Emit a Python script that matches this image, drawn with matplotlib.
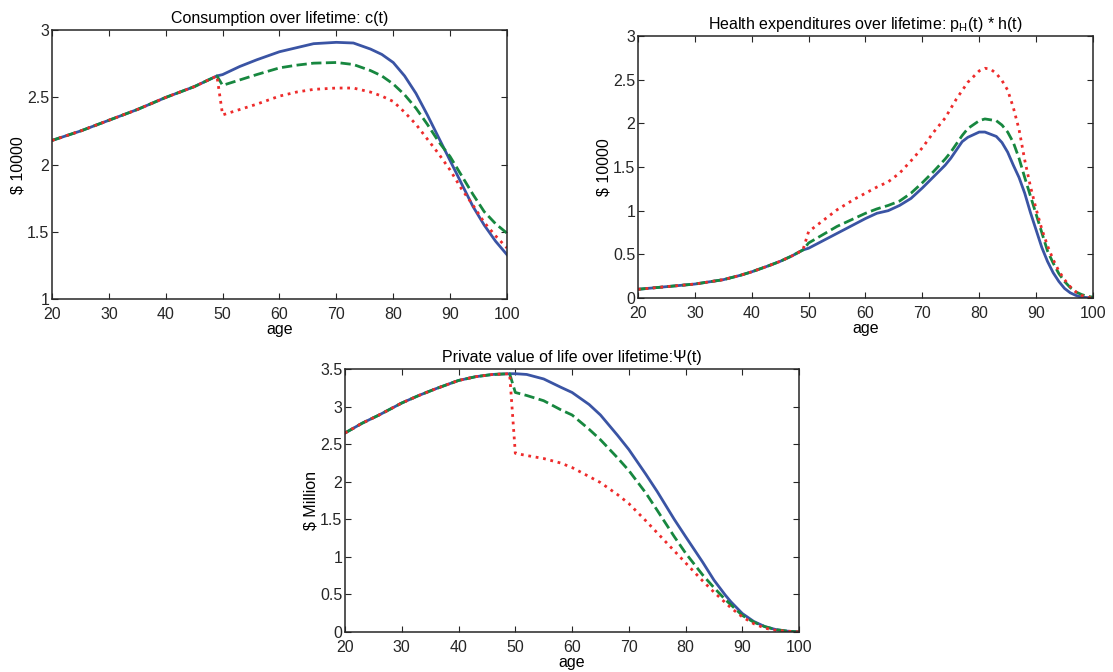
import matplotlib
matplotlib.use('Agg')
import matplotlib.pyplot as plt

plt.rcParams['font.family'] = ['Liberation Sans', 'DejaVu Sans']
plt.rcParams['mathtext.fontset'] = 'custom'
plt.rcParams['mathtext.rm'] = 'Liberation Sans'
plt.rcParams['mathtext.it'] = 'Liberation Sans'

# Consumption c(t), $10000
c_age_common = [20, 25, 30, 35, 40, 45, 49]
c_common = [2.18, 2.25, 2.33, 2.41, 2.50, 2.58, 2.66]
c_age_after = [50, 53, 56, 60, 63, 66, 70, 73, 76, 78, 80, 82, 84, 86, 88, 90, 92, 94, 96, 98, 100]
c_blue = [2.67, 2.73, 2.78, 2.84, 2.87, 2.90, 2.91, 2.905, 2.86, 2.82, 2.76, 2.66, 2.53, 2.37,
          2.20, 2.03, 1.86, 1.69, 1.55, 1.43, 1.33]
c_green = [2.59, 2.63, 2.67, 2.72, 2.74, 2.755, 2.76, 2.745, 2.70, 2.66, 2.60, 2.52, 2.42, 2.30,
           2.17, 2.06, 1.92, 1.78, 1.65, 1.56, 1.49]
c_red = [2.37, 2.41, 2.45, 2.51, 2.54, 2.56, 2.57, 2.57, 2.54, 2.51, 2.47, 2.39, 2.30, 2.19,
         2.08, 1.96, 1.82, 1.70, 1.57, 1.47, 1.38]

# Health expenditures p_H(t)*h(t), $10000
h_age_common = [20, 25, 30, 35, 38, 40, 43, 45, 47, 49]
h_common = [0.10, 0.13, 0.16, 0.21, 0.26, 0.30, 0.37, 0.42, 0.48, 0.55]
h_age_blue = [50, 55, 60, 62, 64, 66, 68, 70, 72, 74, 75, 77, 78, 80, 81, 83, 84, 85, 86, 87,
              88, 89, 90, 91, 92, 93, 94, 95, 96, 97, 98, 100]
h_blue = [0.57, 0.74, 0.91, 0.97, 1.00, 1.06, 1.14, 1.26, 1.39, 1.52, 1.60, 1.79, 1.84, 1.90,
          1.90, 1.85, 1.78, 1.67, 1.52, 1.38, 1.20, 0.98, 0.78, 0.58, 0.42, 0.29, 0.19, 0.11,
          0.06, 0.03, 0.01, 0.0]
h_age_green = [50, 55, 60, 62, 64, 66, 68, 70, 72, 74, 75, 77, 78, 80, 81, 83, 84, 85, 86, 87,
               88, 89, 90, 91, 92, 93, 94, 95, 96, 97, 98, 99, 100]
h_green = [0.63, 0.82, 0.97, 1.02, 1.06, 1.11, 1.20, 1.32, 1.45, 1.59, 1.67, 1.86, 1.94, 2.03,
           2.05, 2.03, 1.98, 1.90, 1.78, 1.60, 1.38, 1.17, 0.96, 0.75, 0.54, 0.40, 0.28, 0.19,
           0.12, 0.07, 0.04, 0.02, 0.01]
h_age_red = [50, 52, 55, 58, 60, 62, 64, 66, 68, 70, 72, 74, 76, 78, 80, 81, 82, 83, 84, 85,
             86, 87, 88, 89, 90, 91, 92, 93, 94, 95, 96, 97, 98, 99, 100]
h_red = [0.76, 0.86, 1.01, 1.13, 1.20, 1.27, 1.33, 1.43, 1.57, 1.72, 1.90, 2.06, 2.28, 2.47,
         2.60, 2.63, 2.62, 2.57, 2.49, 2.38, 2.18, 1.93, 1.58, 1.28, 1.02, 0.79, 0.60, 0.44,
         0.31, 0.21, 0.13, 0.07, 0.03, 0.01, 0.0]

# Private value of life Psi(t), $ Million
v_age_common = [20, 23, 26, 30, 33, 36, 40, 43, 46, 49]
v_common = [2.65, 2.78, 2.89, 3.05, 3.15, 3.24, 3.35, 3.40, 3.43, 3.44]
v_age_after = [50, 52, 55, 58, 60, 63, 65, 68, 70, 73, 75, 78, 80, 83, 85, 87, 88, 90, 92, 94,
               96, 98, 100]
v_blue = [3.44, 3.43, 3.37, 3.26, 3.19, 3.03, 2.89, 2.62, 2.43, 2.10, 1.87, 1.50, 1.27, 0.93,
          0.69, 0.49, 0.40, 0.245, 0.14, 0.07, 0.03, 0.01, 0.0]
v_green = [3.19, 3.15, 3.08, 2.96, 2.89, 2.70, 2.56, 2.32, 2.15, 1.85, 1.62, 1.27, 1.05, 0.76,
           0.59, 0.43, 0.36, 0.22, 0.13, 0.07, 0.03, 0.01, 0.0]
v_red = [2.38, 2.35, 2.31, 2.25, 2.19, 2.07, 1.99, 1.83, 1.71, 1.48, 1.32, 1.08, 0.92, 0.68,
         0.53, 0.39, 0.32, 0.20, 0.11, 0.05, 0.02, 0.01, 0.0]

blue = '#3a54a4'
green = '#17873f'
red = '#ee2b2b'
dark = '#262626'


def style_axes(ax, ylim, yticks):
    ax.set_xlim(20, 100)
    ax.set_ylim(*ylim)
    ax.set_xticks(range(20, 101, 10))
    ax.set_yticks(yticks)
    ax.set_yticklabels(['%g' % v for v in yticks])
    ax.tick_params(direction='in', top=True, right=True, length=4,
                   width=0.8, colors=dark, labelsize=11.5)
    ax.tick_params(axis='x', pad=5.5)
    ax.tick_params(axis='y', pad=2)
    for s in ax.spines.values():
        s.set_color(dark)
        s.set_linewidth(1.1)


def draw_three(ax, age_c, common, ages, vals):
    styles = [(blue, '-'), (green, (0, (3.7, 1.6))), (red, (0, (1, 1.7)))]
    for (col, ls), a, v in zip(styles, ages, vals):
        ax.plot(age_c + a, common + v, color=col, linestyle=ls, linewidth=2)


fig = plt.figure(figsize=(11.13, 6.72), dpi=100)

ax1 = fig.add_axes([0.0467, 0.555, 0.4088, 0.400])
draw_three(ax1, c_age_common, c_common,
           [c_age_after] * 3, [c_blue, c_green, c_red])
style_axes(ax1, (1, 3), [1, 1.5, 2, 2.5, 3])
ax1.set_title('Consumption over lifetime: c(t)', fontsize=11.5, pad=5)
ax1.set_xlabel('age', fontsize=11.5, labelpad=0)
ax1.set_ylabel('$ 10000', fontsize=11.5, labelpad=1)

ax2 = fig.add_axes([0.5732, 0.5565, 0.4088, 0.390])
draw_three(ax2, h_age_common, h_common,
           [h_age_blue, h_age_green, h_age_red], [h_blue, h_green, h_red])
style_axes(ax2, (0, 3), [0, 0.5, 1, 1.5, 2, 2.5, 3])
ax2.set_title(r'Health expenditures over lifetime: p$_\mathregular{H}$(t) * h(t)',
              fontsize=11.5, pad=5)
ax2.set_xlabel('age', fontsize=11.5, labelpad=0)
ax2.set_ylabel('$ 10000', fontsize=11.5, labelpad=1)

ax3 = fig.add_axes([0.31, 0.0596, 0.408, 0.391])
draw_three(ax3, v_age_common, v_common,
           [v_age_after] * 3, [v_blue, v_green, v_red])
style_axes(ax3, (0, 3.5), [0, 0.5, 1, 1.5, 2, 2.5, 3, 3.5])
ax3.set_title('Private value of life over lifetime:\u03a8(t)', fontsize=11.5, pad=5)
ax3.set_xlabel('age', fontsize=11.5, labelpad=0)
ax3.set_ylabel('$ Million', fontsize=11.5, labelpad=1)

fig.savefig('out.png', dpi=100)
